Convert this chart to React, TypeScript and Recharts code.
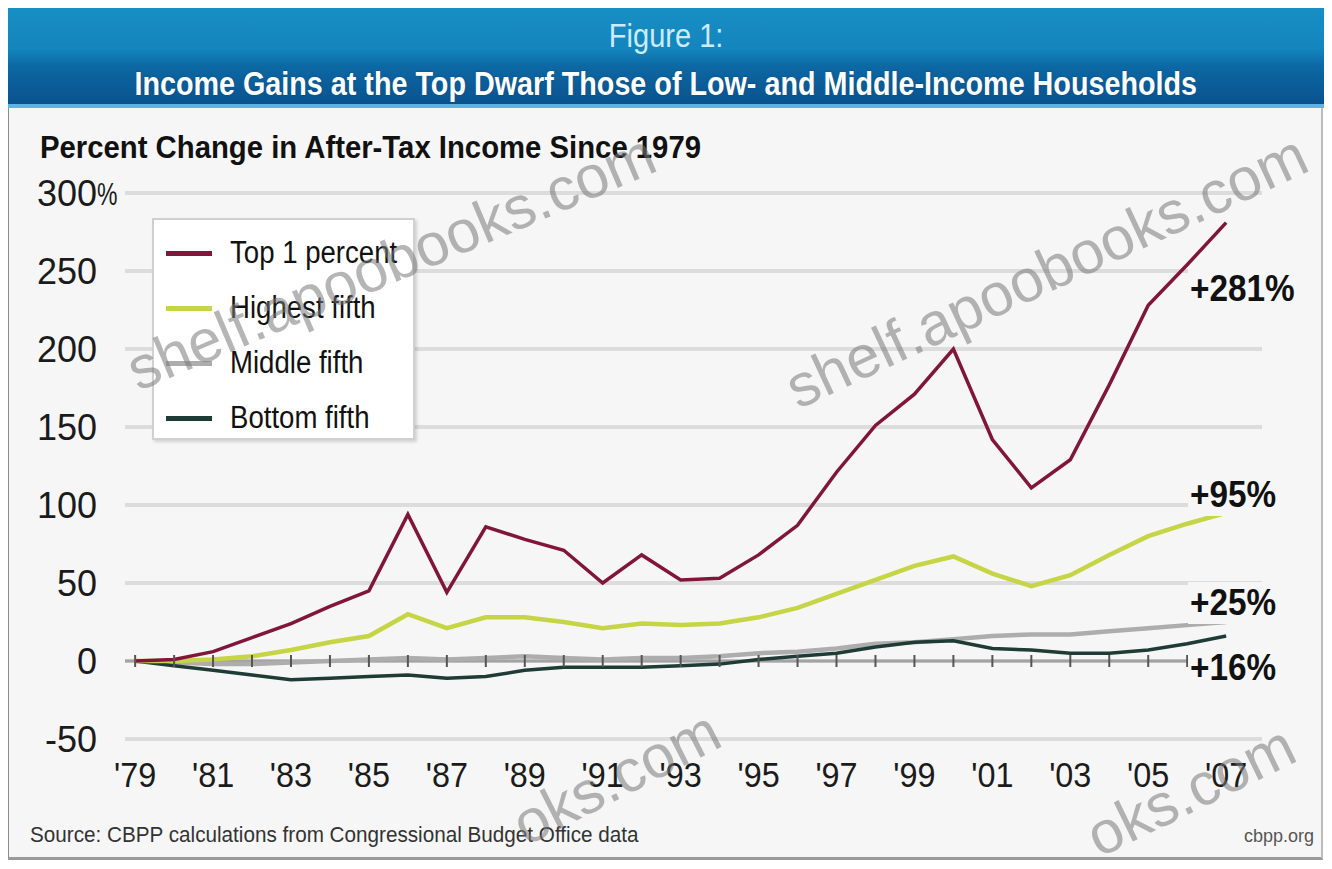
import React from "react";
import {
  CartesianGrid,
  Line,
  LineChart,
  ReferenceDot,
  ReferenceLine,
  XAxis,
  YAxis,
} from "recharts";

const years = [
  1979, 1980, 1981, 1982, 1983, 1984, 1985, 1986, 1987, 1988, 1989, 1990, 1991,
  1992, 1993, 1994, 1995, 1996, 1997, 1998, 1999, 2000, 2001, 2002, 2003, 2004,
  2005, 2006, 2007,
];
const top1Percent = [
  0, 1, 6, 15, 24, 35, 45, 94, 44, 86, 78, 71, 50, 68, 52, 53, 68, 87, 121, 151,
  171, 200, 142, 111, 129, 177, 228, 254, 281,
];
const highestFifth = [
  0, 0, 1, 3, 7, 12, 16, 30, 21, 28, 28, 25, 21, 24, 23, 24, 28, 34, 43, 52, 61,
  67, 56, 48, 55, 68, 80, 88, 95,
];
const middleFifth = [
  0, -1, -2, -2, -1, 0, 1, 2, 1, 2, 3, 2, 1, 2, 2, 3, 5, 6, 8, 11, 12, 14, 16,
  17, 17, 19, 21, 23, 25,
];
const bottomFifth = [
  0, -3, -6, -9, -12, -11, -10, -9, -11, -10, -6, -4, -4, -4, -3, -2, 1, 3, 5,
  9, 12, 13, 8, 7, 5, 5, 7, 11, 16,
];

const xTicks = [
  1979, 1981, 1983, 1985, 1987, 1989, 1991, 1993, 1995, 1997, 1999, 2001, 2003,
  2005, 2007,
];
const xTickLabels = [
  "'79", "'81", "'83", "'85", "'87", "'89", "'91", "'93", "'95", "'97", "'99",
  "'01", "'03", "'05", "'07",
];
const yTicks = [-50, 0, 50, 100, 150, 200, 250, 300];

const seriesNames = ["Top 1 percent", "Highest fifth", "Middle fifth", "Bottom fifth"];
const endLabels = ["+281%", "+95%", "+25%", "+16%"];

const COLORS = ["#81163a", "#c6d545", "#adadad", "#1e3b36"];
const WIDTHS = [3.5, 4.5, 4.5, 3.5];
const KEYS = ["top", "high", "mid", "bottom"];

const data = years.map((year, i) => ({
  year,
  top: top1Percent[i],
  high: highestFifth[i],
  mid: middleFifth[i],
  bottom: bottomFifth[i],
}));

const FONT = "'Liberation Sans', Arial, sans-serif";

function YTick({ x, y, payload }: any) {
  const v = payload.value;
  return (
    <g>
      <text x={x} y={y} dy="0.36em" textAnchor="end" fontFamily={FONT} fontSize={36} fill="#1b1b1b">
        {v}
      </text>
      {v === 300 && (
        <text x={x} y={y} dy="0.36em" textAnchor="start" fontFamily={FONT} fontSize={32} fill="#1b1b1b"
          transform={`translate(${x} 0) scale(0.72 1) translate(${-x} 0)`}>
          %
        </text>
      )}
    </g>
  );
}

function XTick({ x, y, payload }: any) {
  const label = xTickLabels[xTicks.indexOf(payload.value)];
  return (
    <text x={x} y={y} dy="0.72em" textAnchor="middle" fontFamily={FONT} fontSize={36} fill="#1b1b1b"
      transform={`translate(${x} 0) scale(0.9 1) translate(${-x} 0)`}>
      {label}
    </text>
  );
}

function ZeroTick({ cx, cy }: any) {
  if (cx == null || cy == null) return null;
  return <line x1={cx} x2={cx} y1={cy - 6} y2={cy + 6} stroke="#555" strokeWidth={2} />;
}

// positions of the "+xx%" notes at the right end
const endLabelTops = [268, 474, 582, 647];

const squeeze = (k: number, origin = "left center"): React.CSSProperties => ({
  display: "inline-block",
  transform: `scaleX(${k})`,
  transformOrigin: origin,
  whiteSpace: "nowrap",
});

export default function App() {
  return (
    <div
      style={{
        position: "relative",
        width: 1332,
        height: 869,
        margin: -8,
        background: "#ffffff",
        overflow: "hidden",
        fontFamily: FONT,
      }}
    >
      {/* header band */}
      <div
        style={{
          position: "absolute",
          left: 5,
          top: 4,
          width: 1322,
          height: 100,
          background: "linear-gradient(#1790c4 0%, #1485bd 45%, #0c68a3 62%, #0a528e 100%)",
        }}
      >
        <div
          style={{
            position: "absolute",
            top: 12,
            width: "100%",
            textAlign: "center",
            color: "#cdeaff",
            fontSize: 33,
            lineHeight: "40px",
          }}
        >
          <span style={squeeze(0.88, "center center")}>Figure 1:</span>
        </div>
        <div
          style={{
            position: "absolute",
            top: 58,
            width: "100%",
            textAlign: "center",
            color: "#ffffff",
            fontSize: 34,
            fontWeight: 700,
            lineHeight: "42px",
            textShadow: "0 0 2px #0a4a80",
          }}
        >
          <span style={squeeze(0.845, "center center")}>
            Income Gains at the Top Dwarf Those of Low- and Middle-Income Households
          </span>
        </div>
      </div>
      <div style={{ position: "absolute", left: 5, top: 104, width: 1322, height: 4, background: "#5fb3e3" }} />

      {/* panel */}
      <div
        style={{
          position: "absolute",
          left: 5,
          top: 108,
          width: 1318,
          height: 752,
          background: "#f6f6f6",
          borderLeft: "4px solid #8c8c8c",
          borderRight: "2px solid #bdbdbd",
          borderBottom: "3px solid #9a9a9a",
          boxSizing: "border-box",
        }}
      />
      <div style={{ position: "absolute", left: 40, top: 130, fontSize: 31, fontWeight: 700, color: "#111" }}>
        <span style={squeeze(0.945)}>Percent Change in After-Tax Income Since 1979</span>
      </div>

      <div style={{ position: "absolute", left: 0, top: 0 }}>
        <LineChart width={1332} height={869} data={data} margin={{ top: 193, right: 70, bottom: 70, left: 35 }}>
          <CartesianGrid vertical={false} stroke="#dcdcdc" strokeWidth={4} />
          <XAxis
            dataKey="year"
            type="number"
            domain={[1978.74, 2007.92]}
            ticks={xTicks}
            tick={<XTick />}
            tickLine={false}
            axisLine={false}
            tickSize={0}
            tickMargin={22}
            height={60}
            interval={0}
          />
          <YAxis
            domain={[-50, 300]}
            ticks={yTicks}
            tick={<YTick />}
            tickLine={false}
            axisLine={false}
            tickSize={0}
            tickMargin={28}
            width={90}
            interval={0}
          />
          <ReferenceLine y={0} stroke="#a3a3a3" strokeWidth={3} />
          {years.map((yr) => (
            <ReferenceDot key={yr} x={yr} y={0} r={0} shape={<ZeroTick />} />
          ))}
          {[2, 3, 1, 0].map((i) => (
            <Line
              key={KEYS[i]}
              type="linear"
              dataKey={KEYS[i]}
              name={seriesNames[i]}
              stroke={COLORS[i]}
              strokeWidth={WIDTHS[i]}
              dot={false}
              isAnimationActive={false}
            />
          ))}
        </LineChart>
      </div>

      {/* legend */}
      <div
        style={{
          position: "absolute",
          left: 152,
          top: 218,
          width: 263,
          height: 222,
          background: "#ffffff",
          border: "2px solid #d0d0d0",
          boxShadow: "2px 2px 3px rgba(0,0,0,0.15)",
          boxSizing: "border-box",
        }}
      >
        {seriesNames.map((name, i) => (
          <div
            key={name}
            style={{ position: "absolute", left: 12, top: 10 + i * 55, height: 46, display: "flex", alignItems: "center" }}
          >
            <div style={{ width: 46, height: 5, background: COLORS[i] }} />
            <span style={{ marginLeft: 18, fontSize: 31, color: "#111", ...squeeze(0.89) }}>{name}</span>
          </div>
        ))}
      </div>

      {/* end labels */}
      {endLabels.map((t, i) => (
        <div
          key={t}
          style={{
            position: "absolute",
            left: 1188,
            top: endLabelTops[i],
            fontSize: 37,
            fontWeight: 700,
            color: "#111",
            background: "#f6f6f6",
            lineHeight: "42px",
            padding: "0 2px",
          }}
        >
          <span style={squeeze(0.9)}>{t}</span>
        </div>
      ))}

      {/* footer */}
      <div style={{ position: "absolute", left: 30, top: 822, fontSize: 22, color: "#333" }}>
        <span style={squeeze(0.94)}>Source: CBPP calculations from Congressional Budget Office data</span>
      </div>
      <div style={{ position: "absolute", left: 1244, top: 826, fontSize: 18, color: "#555" }}>cbpp.org</div>

      {/* watermark */}
      <svg width={1332} height={869} style={{ position: "absolute", left: 0, top: 0, pointerEvents: "none" }}>
        <g fontFamily={FONT} fontSize={60} fill="rgba(120,120,120,0.55)">
          <text x={660} y={170} textAnchor="end" transform="rotate(-23 660 170)">shelf.apoobooks.com</text>
          <text x={1312} y={170} textAnchor="end" transform="rotate(-25 1312 170)">shelf.apoobooks.com</text>
          <text x={725} y={745} textAnchor="end" transform="rotate(-27 725 745)">oks.com</text>
          <text x={1300} y={760} textAnchor="end" transform="rotate(-26 1300 760)">oks.com</text>
        </g>
      </svg>
    </div>
  );
}
